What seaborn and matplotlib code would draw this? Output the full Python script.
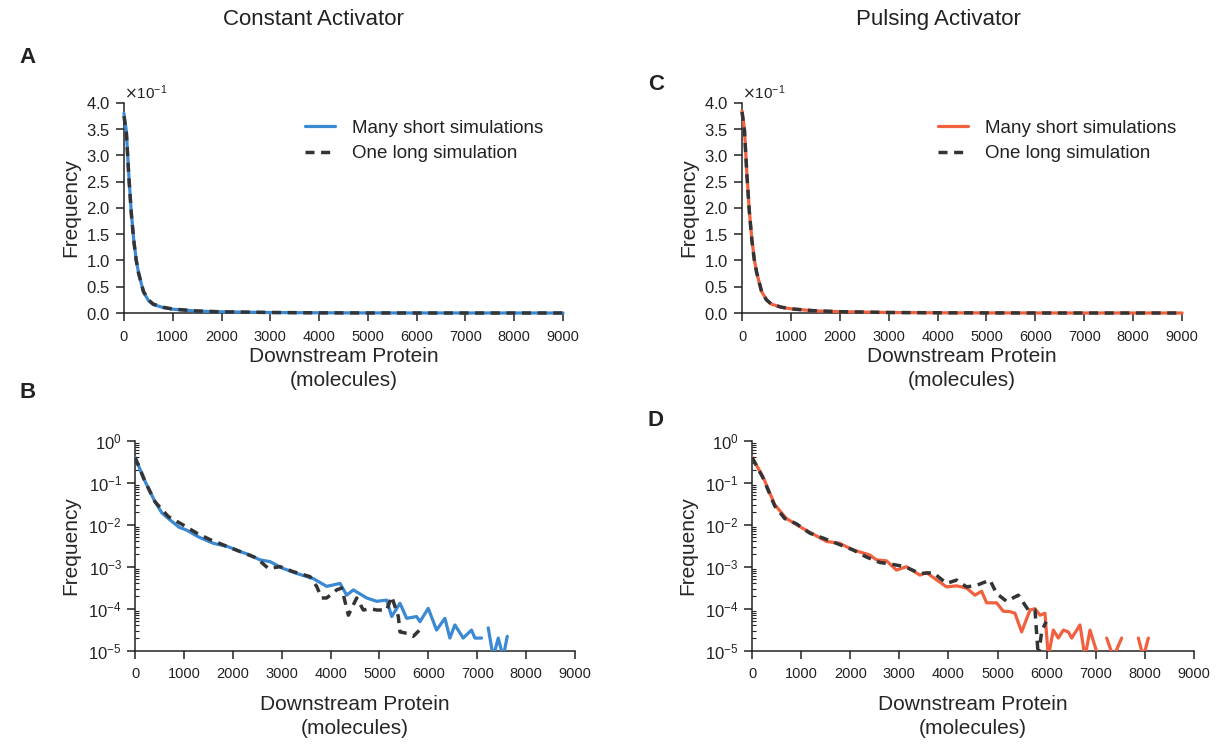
import matplotlib
matplotlib.use("Agg")
import matplotlib.pyplot as plt
import seaborn as sns
from matplotlib.ticker import LogLocator, NullFormatter

# ---- data ----
# linear panels (A, C)
lin_x = [0, 50, 100, 150, 200, 250, 300, 400, 500, 600, 800, 1000, 1500,
         2000, 3000, 4000, 5000, 6000, 7000, 8000, 9000]
const_short_lin = [0.380, 0.345, 0.262, 0.192, 0.140, 0.102, 0.076, 0.040, 0.024,
                   0.016, 0.0105, 0.0072, 0.0036, 0.0023, 0.0009, 0.0004, 0.00015,
                   0.00006, 0.00002, 0.00001, 0.0]
const_long_lin = [0.375, 0.342, 0.260, 0.190, 0.139, 0.101, 0.076, 0.041, 0.025,
                  0.017, 0.0110, 0.0075, 0.0038, 0.0023, 0.0010, 0.0003, 0.0001,
                  0.00003, 0.0, 0.0, 0.0]
pulse_short_lin = [0.385, 0.350, 0.265, 0.195, 0.142, 0.103, 0.077, 0.041, 0.025,
                   0.017, 0.0110, 0.0080, 0.0040, 0.0025, 0.0010, 0.00035, 0.00014,
                   0.00007, 0.00002, 0.00001, 0.0]
pulse_long_lin = [0.383, 0.348, 0.263, 0.193, 0.140, 0.102, 0.077, 0.041, 0.025,
                  0.017, 0.0112, 0.0078, 0.0042, 0.0025, 0.0010, 0.0004, 0.0002,
                  0.00004, 0.0, 0.0, 0.0]

# log panels (B, D)
const_short_x = [0, 200, 409, 550, 716, 900, 1057, 1300, 1602, 1900, 2147, 2350,
                 2556, 2760, 3027, 3306, 3647, 3920, 4193, 4330, 4466, 4739, 4943,
                 5148, 5250, 5420, 5556, 5760, 5828, 5998, 6168, 6339, 6441, 6543,
                 6713, 6884, 6952, 7088]
const_short_y = [0.40, 0.11, 0.035, 0.019, 0.013, 0.0087, 0.0074, 0.0051, 0.0036,
                 0.0030, 0.0023, 0.0019, 0.00145, 0.00132, 0.00091, 0.00069, 0.00052,
                 0.00034, 0.00040, 0.00021, 0.00028, 0.00018, 0.00015, 0.00016,
                 0.000065, 0.000135, 0.000059, 0.000065, 0.000049, 0.000102,
                 0.000031, 0.000059, 0.00002, 0.000041, 0.00002, 0.000031, 0.00002,
                 0.00002]
const_short_tail_x = [7225, 7328, 7430, 7532, 7614]
const_short_tail_y = [0.000035, 0.000007, 0.00002, 0.000007, 0.000022]

const_long_x = [0, 200, 409, 682, 988, 1261, 1534, 1806, 2147, 2488, 2726, 2965,
                3238, 3579, 3715, 3817, 3920, 4125, 4227, 4364, 4534, 4670, 4806,
                4943, 5148, 5250, 5386, 5420, 5556, 5692, 5896]
const_long_y = [0.40, 0.11, 0.035, 0.0155, 0.0098, 0.0063, 0.0044, 0.0033, 0.0023,
                0.0016, 0.00091, 0.0010, 0.00076, 0.00058, 0.00034, 0.00018,
                0.00018, 0.00028, 0.00031, 0.00007, 0.00018, 0.000093, 0.0001,
                0.000093, 0.000093, 0.000195, 0.000065, 0.000028, 0.000026,
                0.000022, 0.000038]

pulse_short_x = [0, 224, 462, 700, 1040, 1515, 1787, 2059, 2398, 2534, 2738, 2942,
                 3146, 3418, 3554, 3962, 4165, 4369, 4539, 4675, 4777, 4980, 5116,
                 5252, 5354, 5490, 5660, 5762, 5864, 5965, 6033, 6135, 6237, 6339,
                 6441, 6509, 6678, 6780, 6882, 7052]
pulse_short_y = [0.40, 0.138, 0.030, 0.014, 0.0081, 0.0040, 0.0036, 0.0025, 0.0019,
                 0.00145, 0.00138, 0.00083, 0.0010, 0.00063, 0.00072, 0.00033,
                 0.00035, 0.00031, 0.00021, 0.00026, 0.000138, 0.000138, 0.000087,
                 0.000085, 0.000078, 0.000028, 0.000093, 0.0001, 0.00007, 0.000078,
                 0.000007, 0.000031, 0.00002, 0.000031, 0.000028, 0.00002, 0.000041,
                 0.000007, 0.000031, 0.000007]
pulse_short_tail1_x = [7222, 7358, 7527]
pulse_short_tail1_y = [0.00002, 0.000007, 0.00002]
pulse_short_tail2_x = [7866, 7968, 8070]
pulse_short_tail2_y = [0.00002, 0.000007, 0.00002]

pulse_long_x = [0, 224, 462, 666, 904, 1176, 1447, 1719, 2059, 2330, 2602, 2806,
                3111, 3418, 3690, 3962, 4165, 4369, 4573, 4845, 4980, 5184, 5422,
                5626, 5762, 5830, 5900, 5990]
pulse_long_y = [0.40, 0.13, 0.028, 0.014, 0.0105, 0.0063, 0.0048, 0.0036, 0.0025,
                0.0017, 0.00126, 0.00117, 0.0010, 0.00069, 0.00072, 0.0004, 0.00048,
                0.00033, 0.00036, 0.00048, 0.00023, 0.00015, 0.00021, 0.000093,
                0.000093, 0.000007, 0.00003, 0.000049]

x_ticks = [0, 1000, 2000, 3000, 4000, 5000, 6000, 7000, 8000, 9000]

blue = "#3b88d3"
red = "#f1603f"
dark = "#333436"
dash = (0, (2.6, 1.9))

sns.set_style("ticks")
plt.rcParams["font.family"] = ["Liberation Sans", "DejaVu Sans"]
plt.rcParams["axes.edgecolor"] = "#222222"
plt.rcParams["axes.linewidth"] = 1.1
plt.rcParams["xtick.color"] = "#222222"
plt.rcParams["ytick.color"] = "#222222"
plt.rcParams["text.color"] = "#222222"

fig = plt.figure(figsize=(12.2, 7.44), dpi=100)
axA = fig.add_axes([0.1016, 0.5793, 0.3599, 0.2823])
axC = fig.add_axes([0.6082, 0.5793, 0.3607, 0.2823])
axB = fig.add_axes([0.1107, 0.1254, 0.3606, 0.2823])
axD = fig.add_axes([0.6164, 0.1254, 0.3623, 0.2823])


def style_common(ax):
    sns.despine(ax=ax)
    ax.set_xlim(0, 9000)
    ax.set_xticks(x_ticks)
    ax.tick_params(axis="x", labelsize=10.5, length=6, width=1.1, direction="out",
                   pad=6)
    ax.tick_params(axis="y", which="major", labelsize=12, length=6, width=1.1,
                   direction="out")
    ax.set_xlabel("Downstream Protein\n(molecules)", fontsize=15, linespacing=1.35)
    ax.set_ylabel("Frequency", fontsize=15)


# linear panels
for ax, short, long, col, lx in [(axA, const_short_lin, const_long_lin, blue, 0.412),
                                 (axC, pulse_short_lin, pulse_long_lin, red, 0.445)]:
    sns.lineplot(x=lin_x, y=short, ax=ax, color=col, lw=2.3, zorder=3,
                 clip_on=False, label="Many short simulations")
    sns.lineplot(x=lin_x, y=long, ax=ax, color=dark, lw=2.5, zorder=4,
                 linestyle=dash, clip_on=False, label="One long simulation")
    style_common(ax)
    ax.set_ylim(0, 0.4)
    ax.set_yticks([0, 0.05, 0.1, 0.15, 0.2, 0.25, 0.3, 0.35, 0.4])
    ax.ticklabel_format(axis="y", style="sci", scilimits=(-1, -1), useMathText=True)
    ax.yaxis.get_offset_text().set_fontsize(11)
    ax.legend(loc="upper left", bbox_to_anchor=(lx, 0.92), frameon=False,
              fontsize=13.5, handlelength=1.6, handletextpad=0.9,
              labelspacing=0.45, borderpad=0, borderaxespad=0)
    ax.yaxis.set_label_coords(-0.10, 0.5)
    ax.xaxis.set_label_coords(0.5, -0.16)

# log panels
axB.set_yscale("log")
axD.set_yscale("log")
sns.lineplot(x=const_short_x, y=const_short_y, ax=axB, color=blue, lw=2.3, zorder=3)
sns.lineplot(x=const_short_tail_x, y=const_short_tail_y, ax=axB, color=blue, lw=2.3,
             zorder=3)
sns.lineplot(x=const_long_x, y=const_long_y, ax=axB, color=dark, lw=2.5, zorder=4,
             linestyle=dash)

sns.lineplot(x=pulse_short_x, y=pulse_short_y, ax=axD, color=red, lw=2.3, zorder=3)
sns.lineplot(x=pulse_short_tail1_x, y=pulse_short_tail1_y, ax=axD, color=red,
             lw=2.3, zorder=3)
sns.lineplot(x=pulse_short_tail2_x, y=pulse_short_tail2_y, ax=axD, color=red,
             lw=2.3, zorder=3)
sns.lineplot(x=pulse_long_x, y=pulse_long_y, ax=axD, color=dark, lw=2.5, zorder=4,
             linestyle=dash)

for ax in [axB, axD]:
    style_common(ax)
    ax.set_ylim(1e-5, 1)
    ax.yaxis.set_major_locator(LogLocator(base=10, numticks=10))
    ax.yaxis.set_minor_locator(LogLocator(base=10, subs=range(2, 10), numticks=10))
    ax.yaxis.set_minor_formatter(NullFormatter())
    ax.tick_params(axis="y", which="minor", length=3, width=0.8, direction="in")
    ax.yaxis.set_label_coords(-0.125, 0.5)
    ax.xaxis.set_label_coords(0.5, -0.21)

fig.text(0.257, 0.974, "Constant Activator", fontsize=16, ha="center", va="center")
fig.text(0.769, 0.974, "Pulsing Activator", fontsize=16, ha="center", va="center")
for x, y, s in [(0.016, 0.923, "A"), (0.016, 0.473, "B"),
                (0.531, 0.886, "C"), (0.531, 0.435, "D")]:
    fig.text(x, y, s, fontsize=16, fontweight="bold", ha="left", va="center")

plt.savefig("out.png", dpi=100)
